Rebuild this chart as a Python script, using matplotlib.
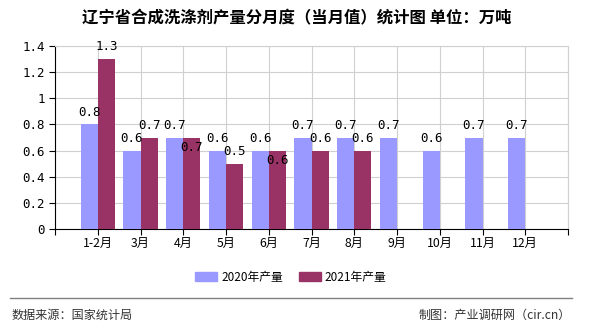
import matplotlib.pyplot as plt
from matplotlib.patches import Patch
from matplotlib.lines import Line2D

plt.rcParams['font.family'] = ['Noto Sans CJK SC', 'DejaVu Sans']

# 数据
months = ['1-2月', '3月', '4月', '5月', '6月', '7月', '8月', '9月', '10月', '11月', '12月']
v2020 = [0.8, 0.6, 0.7, 0.6, 0.6, 0.7, 0.7, 0.7, 0.6, 0.7, 0.7]
v2021 = [1.3, 0.7, 0.7, 0.5, 0.6, 0.6, 0.6]
yticks = [0, 0.2, 0.4, 0.6, 0.8, 1, 1.2, 1.4]

c2020 = '#9999FF'
c2021 = '#993366'

fig = plt.figure(figsize=(5.9, 3.3), dpi=100)
ax = fig.add_axes([55 / 590, 1 - 229 / 330, 513 / 590, 183 / 330])

x = [i + 1 for i in range(len(months))]
w = 0.4
ax.bar([p - w / 2 for p in x], v2020, width=w, color=c2020, zorder=3)
ax.bar([p + w / 2 for p in x[:len(v2021)]], v2021, width=w, color=c2021, zorder=3)

# 数值标签
mono = ['DejaVu Sans Mono']
for i, v in enumerate(v2020):
    ax.text(x[i] - w / 2, v + 0.045, f'{v:g}', ha='center', va='bottom',
            fontsize=9, family=mono, zorder=4)
for i, v in enumerate(v2021):
    if v == v2020[i]:
        y = v - 0.03
        va = 'top'
    else:
        y = v + 0.045
        va = 'bottom'
    ax.text(x[i] + w / 2, y, f'{v:g}', ha='center', va=va,
            fontsize=9, family=mono, zorder=4)

ax.set_xlim(0, 12)
ax.set_ylim(0, 1.4)
ax.set_yticks(yticks)
ax.set_yticklabels([f'{t:g}' for t in yticks], family=mono, fontsize=9)
ax.set_xticks(range(13))
ax.set_xticklabels([''] + months + [''], fontsize=8.8)
ax.tick_params(axis='x', length=4, color='black', pad=2)
ax.tick_params(axis='y', length=4, color='black')

ax.grid(True, color='#d0d0d0', linewidth=0.8, zorder=0)
ax.spines['top'].set_color('#d0d0d0')
ax.spines['right'].set_color('#d0d0d0')
ax.spines['left'].set_color('black')
ax.spines['bottom'].set_color('black')

fig.text(297 / 590, 1 - 18 / 330, '辽宁省合成洗涤剂产量分月度（当月值）统计图 单位：万吨',
         ha='center', va='center', fontsize=11.8, fontweight='bold')

handles = [Patch(color=c2020, label='2020年产量'), Patch(color=c2021, label='2021年产量')]
fig.legend(handles=handles, loc='center', bbox_to_anchor=(291 / 590, 1 - 277 / 330),
           ncol=2, frameon=False, fontsize=8.5, handlelength=1.85, handleheight=0.7,
           handletextpad=0.35, columnspacing=1.35)

fig.add_artist(Line2D([10 / 590, 572 / 590], [1 - 298 / 330] * 2, color='gray', linewidth=1))
fig.text(12 / 590, 1 - 315 / 330, '数据来源：国家统计局', ha='left', va='center', fontsize=8.7, color='#333333')
fig.text(571 / 590, 1 - 315 / 330, '制图：产业调研网（cir.cn）', ha='right', va='center', fontsize=8.7, color='#333333')

fig.savefig('out.png', dpi=100)
